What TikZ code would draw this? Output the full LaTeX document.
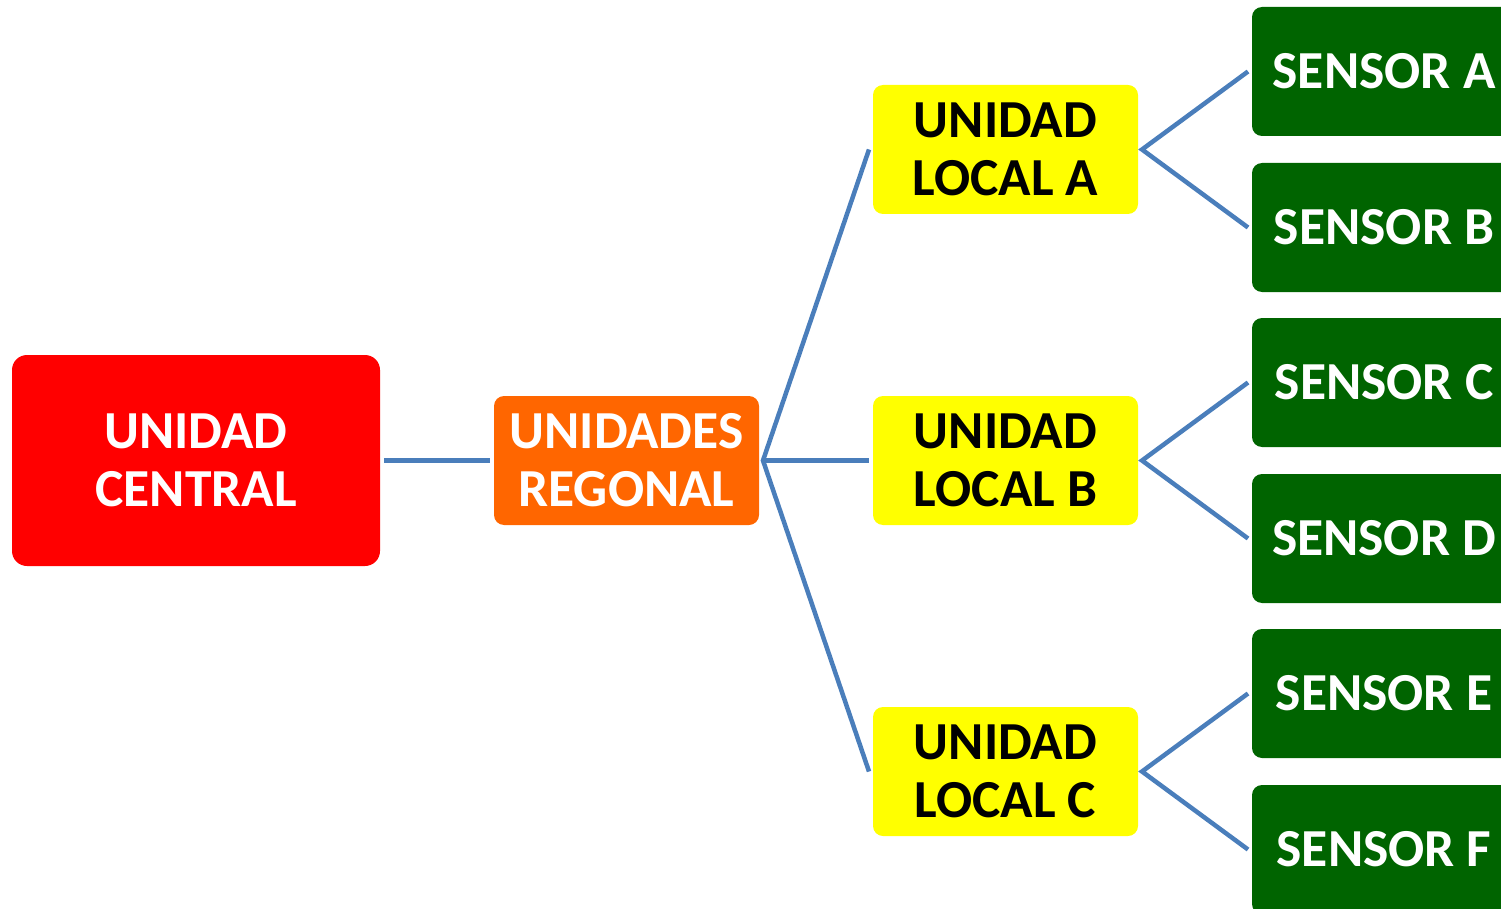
\documentclass[tikz,border=0pt]{standalone}
\usepackage{fontspec}
\setmainfont{Carlito}
\definecolor{cred}{HTML}{FF0000}
\definecolor{corange}{HTML}{FF6600}
\definecolor{cyellow}{HTML}{FFFF00}
\definecolor{cgreen}{HTML}{006400}
\definecolor{cline}{HTML}{4A7EBB}
\begin{document}
\begin{tikzpicture}[x=1pt,y=-1pt,
  box/.style={rectangle, rounded corners=10pt, inner sep=0pt, outer sep=4pt,
    minimum width=265pt, minimum height=129pt, align=center,
    font=\fontsize{53.5}{58}\selectfont\bfseries},
  central/.style={box, fill=cred, text=white, minimum width=368pt, minimum height=211pt, rounded corners=15pt},
  regional/.style={box, fill=corange, text=white},
  localbox/.style={box, fill=cyellow, text=black},
  sensorbox/.style={box, fill=cgreen, text=white, minimum width=264pt},
  conn/.style={draw=cline, line width=4.5pt}]
\useasboundingbox (0,0) rectangle (1501,909);
\clip (0,0) rectangle (1501,909);
\node[central] (uc) at (196,460.5) {UNIDAD\\CENTRAL};
\node[regional] (ur) at (626.5,460.5) {UNIDADES\\REGONAL};
\node[localbox] (la) at (1005.5,149.5) {UNIDAD\\LOCAL A};
\node[localbox] (lb) at (1005.5,460.5) {UNIDAD\\LOCAL B};
\node[localbox] (lc) at (1005.5,771.5) {UNIDAD\\LOCAL C};
\node[sensorbox] (sa) at (1384,71.5) {SENSOR A};
\node[sensorbox] (sb) at (1384,227.5) {SENSOR B};
\node[sensorbox] (sc) at (1384,382.5) {SENSOR C};
\node[sensorbox] (sd) at (1384,538.5) {SENSOR D};
\node[sensorbox] (se) at (1384,693.5) {SENSOR E};
\node[sensorbox] (sf) at (1384,849.5) {SENSOR F};
\draw[conn] (uc.east) -- (ur.west);
\draw[conn] (la.west) -- (ur.east) -- (lc.west);
\draw[conn] (ur.east) -- (lb.west);
\draw[conn] (sa.west) -- (la.east) -- (sb.west);
\draw[conn] (sc.west) -- (lb.east) -- (sd.west);
\draw[conn] (se.west) -- (lc.east) -- (sf.west);
\end{tikzpicture}
\end{document}
